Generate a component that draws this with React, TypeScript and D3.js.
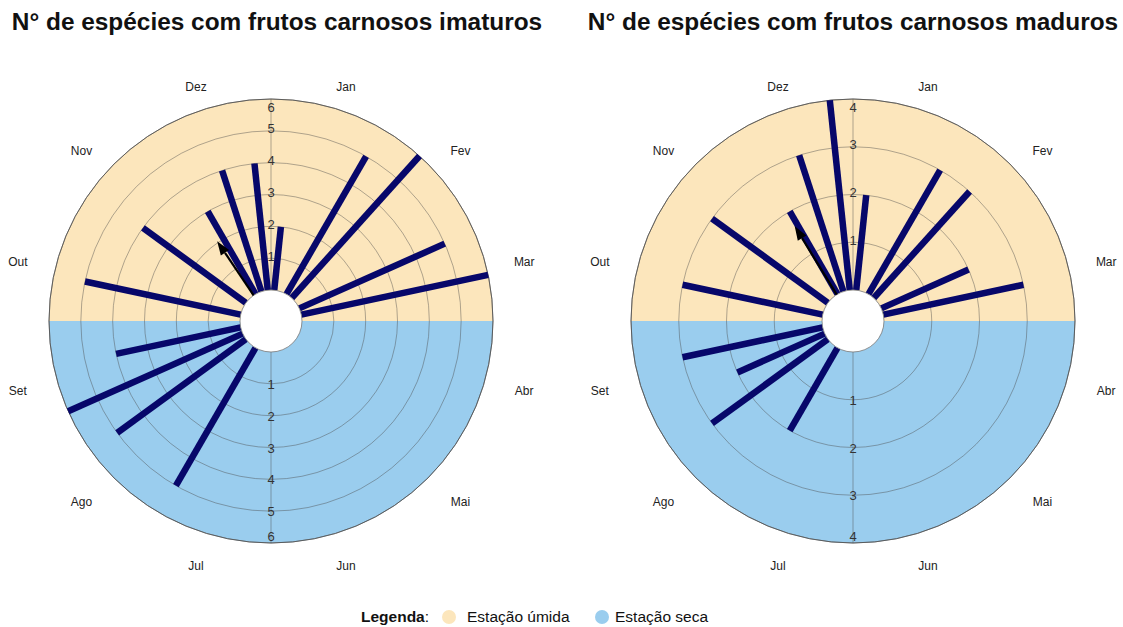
import React from 'react';
import * as d3 from 'd3';

const meses = ['Jan', 'Fev', 'Mar', 'Abr', 'Mai', 'Jun', 'Jul', 'Ago', 'Set', 'Out', 'Nov', 'Dez'];
const angulos = [6, 30, 42, 66, 78, 210, 234, 246, 258, 282, 306, 330, 342, 354];
const imaturos = [2, 5, 6, 5, 6, 5, 5, 6, 4, 5, 4, 3, 4, 4];
const maduros = [2, 3, 3, 2, 3, 2, 3, 2, 3, 3, 3, 2, 3, 4];
const ticksImaturos = [1, 2, 3, 4, 5, 6];
const ticksMaduros = [1, 2, 3, 4];
const vetorImaturos = { angulo: 326, valor: 2.05 };
const vetorMaduros = { angulo: 328.4, valor: 1.68 };
const titulos = ['N° de espécies com frutos carnosos imaturos', 'N° de espécies com frutos carnosos maduros'];

const FONT = 'Liberation Sans, Arial, Helvetica, sans-serif';
const YELLOW = '#FCE6BC';
const BLUE = '#9ACDEE';
const BAR = '#07076A';

type RoseProps = {
  cx: number;
  cy: number;
  titleX: number;
  values: number[];
  ticks: number[];
  vetor: { angulo: number; valor: number };
  title: string;
};

function Rose({ cx, cy, titleX, values, ticks, vetor, title }: RoseProps) {
  const max = d3.max(ticks) as number;
  const r0 = 31;
  const R = 222;
  const r = d3.scaleLinear().domain([0, max]).range([r0, R]);
  const a = d3.scaleLinear().domain([0, 360]).range([0, 2 * Math.PI]);
  const pt = (deg: number, rad: number): [number, number] => [
    rad * Math.sin(a(deg)),
    -rad * Math.cos(a(deg)),
  ];
  const half = d3.arc<any>().innerRadius(0).outerRadius(R);
  const upper = half({ startAngle: -Math.PI / 2, endAngle: Math.PI / 2 }) as string;
  const lower = half({ startAngle: Math.PI / 2, endAngle: (3 * Math.PI) / 2 }) as string;

  // arrow (mean vector)
  const tip = pt(vetor.angulo, r(vetor.valor));
  const base = pt(vetor.angulo, r0);
  const hl = 14;
  const hw = 5;
  const ux = Math.sin(a(vetor.angulo));
  const uy = -Math.cos(a(vetor.angulo));
  const bx = tip[0] - ux * hl;
  const by = tip[1] - uy * hl;
  const head = `M${tip[0]},${tip[1]}L${bx - uy * hw},${by + ux * hw}L${bx + uy * hw},${by - ux * hw}Z`;

  return (
    <g>
      <text x={titleX} y={30} textAnchor="middle" fontFamily={FONT} fontWeight="bold" fontSize={24.4} fill="#111">
        {title}
      </text>
      <g transform={`translate(${cx},${cy})`}>
        <path d={upper} fill={YELLOW} />
        <path d={lower} fill={BLUE} />
        {ticks.map((t) => (
          <circle key={t} r={r(t)} fill="none" stroke="#4a4a4a" strokeOpacity={0.55} strokeWidth={0.8} />
        ))}
        <line x1={0} y1={-r0} x2={0} y2={-R} stroke="#4a4a4a" strokeOpacity={0.55} strokeWidth={0.8} />
        <line x1={0} y1={r0} x2={0} y2={R} stroke="#4a4a4a" strokeOpacity={0.55} strokeWidth={0.8} />
        <circle r={R} fill="none" stroke="#555" strokeWidth={0.9} />
        {values.map((v, i) => {
          const p0 = pt(angulos[i], r(0));
          const p1 = pt(angulos[i], r(v));
          return (
            <line key={i} x1={p0[0]} y1={p0[1]} x2={p1[0]} y2={p1[1]} stroke={BAR} strokeWidth={6.5} />
          );
        })}
        <circle r={r0} fill="#fff" stroke="#777" strokeWidth={0.8} />
        <line x1={base[0]} y1={base[1]} x2={bx} y2={by} stroke="#000" strokeWidth={2.2} />
        <path d={head} fill="#000" />
        {ticks.map((t) => (
          <text
            key={'u' + t}
            x={0}
            y={t === max ? -r(t) + 8 : -r(t) - 2}
            textAnchor="middle"
            dominantBaseline="central"
            fontFamily={FONT}
            fontSize={13}
            fill="#333"
          >
            {t}
          </text>
        ))}
        {ticks.map((t) => (
          <text
            key={'d' + t}
            x={0}
            y={t === max ? r(t) - 7 : r(t) + 0.5}
            textAnchor="middle"
            dominantBaseline="central"
            fontFamily={FONT}
            fontSize={13}
            fill="#333"
          >
            {t}
          </text>
        ))}
        {meses.map((m, k) => {
          const th = a(15 + 30 * k);
          const s = Math.sin(th);
          const c = Math.cos(th);
          const x = 260 * s + 8 * Math.sign(s) * Math.abs(c);
          const y = 5.5 - 248 * c;
          return (
            <text key={m} x={x} y={y} textAnchor="middle" dominantBaseline="central" fontFamily={FONT} fontSize={12} fill="#222">
              {m}
            </text>
          );
        })}
      </g>
    </g>
  );
}

export default function App() {
  return (
    <svg
      width={1123}
      height={627}
      style={{ position: 'absolute', left: 0, top: 0, background: '#fff' }}
    >
      <rect width={1123} height={627} fill="#fff" />
      <Rose cx={271} cy={321} titleX={277} values={imaturos} ticks={ticksImaturos} vetor={vetorImaturos} title={titulos[0]} />
      <Rose cx={853} cy={321} titleX={853} values={maduros} ticks={ticksMaduros} vetor={vetorMaduros} title={titulos[1]} />
      <g fontFamily={FONT} fontSize={15.5} fill="#111">
        <text x={361} y={622}>
          <tspan fontWeight="bold">Legenda</tspan>
          <tspan>:</tspan>
        </text>
        <circle cx={449} cy={617} r={7} fill={YELLOW} />
        <text x={467} y={622}>Estação úmida</text>
        <circle cx={602} cy={617} r={7} fill={BLUE} />
        <text x={615} y={622}>Estação seca</text>
      </g>
    </svg>
  );
}
